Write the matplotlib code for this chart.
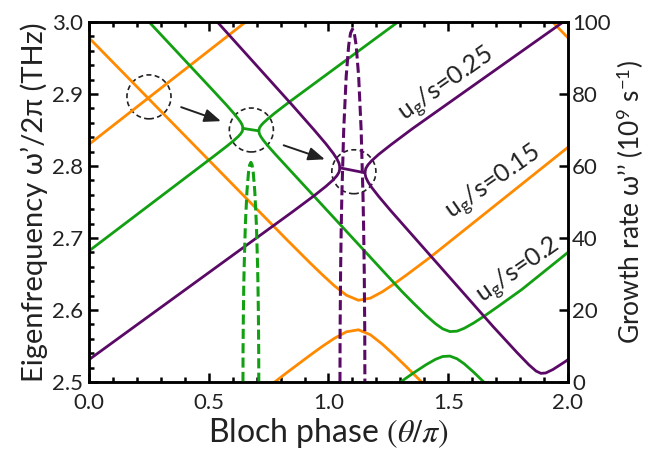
import matplotlib
matplotlib.use("Agg")
import matplotlib.pyplot as plt
from matplotlib.patches import Ellipse
from matplotlib.ticker import MultipleLocator, FormatStrFormatter

plt.rcParams['font.family'] = ['Lato', 'DejaVu Sans']
plt.rcParams['mathtext.fontset'] = 'custom'
plt.rcParams['mathtext.rm'] = 'Lato'
plt.rcParams['mathtext.it'] = 'Lato:italic'
plt.rcParams['mathtext.fallback'] = 'cm'

# ---- bands for u_g/s = 0.15 (orange) ----
or_up_x = [0.0, 0.654]
or_up_y = [2.830, 3.0]
or_top_x = [0.0, 0.825, 0.925, 0.975, 1.025, 1.075, 1.125, 1.175, 1.225, 1.275, 1.325, 1.425, 2.0]
or_top_y = [2.978, 2.698, 2.6648, 2.6488, 2.6335, 2.6205, 2.6135, 2.6164, 2.6253, 2.6365, 2.6484, 2.6733, 2.826]
or_low_x = [0.76, 0.825, 0.925, 0.975, 1.025, 1.075, 1.125, 1.175, 1.225, 1.275, 1.325, 1.425]
or_low_y = [2.496, 2.5127, 2.5376, 2.5496, 2.5607, 2.5697, 2.5725, 2.5656, 2.5525, 2.5373, 2.5212, 2.4881]
or_end_x = [1.936, 2.0]
or_end_y = [3.0, 2.978]

# ---- bands for u_g/s = 0.2 (green) ----
gr_a_x = [0.251, 0.516, 0.576, 0.606, 0.624, 0.634, 0.640, 0.643]
gr_a_y = [3.0, 2.9056, 2.8840, 2.8726, 2.8652, 2.8605, 2.8567, 2.8522]
gr_b_x = [0.0, 0.516, 0.576, 0.606, 0.624, 0.634, 0.640, 0.643]
gr_b_y = [2.682, 2.8122, 2.8276, 2.8358, 2.8412, 2.8449, 2.8481, 2.8522]
gr_flat_x = [0.643, 0.709]
gr_flat_y = [2.8522, 2.8488]
gr_c_x = [0.709, 0.712, 0.718, 0.728, 0.746, 0.776, 0.836, 1.29]
gr_c_y = [2.8488, 2.8529, 2.8561, 2.8598, 2.8652, 2.8735, 2.8888, 3.0]
gr_d_x = [0.709, 0.712, 0.718, 0.728, 0.746, 0.776, 0.836, 1.307, 1.357, 1.407, 1.447,
          1.477, 1.507, 1.537, 1.567, 1.607, 1.657, 1.707, 1.807, 2.0]
gr_d_y = [2.8488, 2.8443, 2.8405, 2.8358, 2.8284, 2.8171, 2.7954, 2.6256, 2.6088, 2.5926, 2.5809,
          2.5738, 2.570, 2.5706, 2.5746, 2.5821, 2.5930, 2.6046, 2.6284, 2.680]
gr_low_x = [1.29, 1.307, 1.357, 1.407, 1.447, 1.477, 1.507, 1.537, 1.567, 1.607, 1.657]
gr_low_y = [2.497, 2.5014, 2.5130, 2.5239, 2.5315, 2.5354, 2.536, 2.5322, 2.5252, 2.5134, 2.4972]

# ---- bands for u_g/s = 0.25 (purple) ----
pu_a_x = [0.536, 0.85, 0.94, 0.99, 1.02, 1.035, 1.044, 1.048]
pu_a_y = [3.0, 2.8841, 2.8501, 2.8305, 2.8176, 2.8100, 2.8039, 2.7974]
pu_b_x = [0.0, 0.85, 0.94, 0.99, 1.02, 1.035, 1.044, 1.048]
pu_b_y = [2.531, 2.7364, 2.7587, 2.7719, 2.7808, 2.7864, 2.7913, 2.7974]
pu_flat_x = [1.048, 1.152]
pu_flat_y = [2.7974, 2.7906]
pu_c_x = [1.152, 1.156, 1.165, 1.18, 1.21, 1.26, 1.35, 1.98]
pu_c_y = [2.7906, 2.7967, 2.8016, 2.8072, 2.8162, 2.8293, 2.8517, 3.0]
pu_d_x = [1.152, 1.156, 1.165, 1.18, 1.21, 1.26, 1.35, 1.687, 1.787, 1.837, 1.867,
          1.887, 1.907, 1.937, 1.987, 2.0]
pu_d_y = [2.7906, 2.7841, 2.7780, 2.7704, 2.7576, 2.7379, 2.7040, 2.5771, 2.541, 2.5238, 2.5151,
          2.512, 2.5125, 2.5173, 2.528, 2.531]

# ---- growth rates (right axis, 1e9 s^-1) ----
gr_rate_x = [0.643, 0.6433, 0.6447, 0.6463, 0.6480, 0.6529, 0.6595, 0.6661, 0.6711, 0.676,
             0.6810, 0.6859, 0.6925, 0.6991, 0.7041, 0.7057, 0.7074, 0.7087, 0.709]
gr_rate_y = [0, 8.6, 19.0, 26.6, 32.1, 43.6, 52.8, 58.2, 60.3, 61.0,
             60.3, 58.2, 52.8, 43.6, 32.1, 26.6, 19.0, 8.6, 0]
pu_rate_x = [1.048, 1.0485, 1.0506, 1.0532, 1.0558, 1.0636, 1.074, 1.0844, 1.0922, 1.10,
             1.1078, 1.1156, 1.126, 1.1364, 1.1442, 1.1468, 1.1494, 1.1515, 1.152]
pu_rate_y = [0, 13.8, 30.6, 42.7, 51.6, 70.0, 84.9, 93.5, 96.9, 98.0,
             96.9, 93.5, 84.9, 70.0, 51.6, 42.7, 30.6, 13.8, 0]

# circled crossings and arrows
circle_x = [0.2505, 0.678, 1.106]
circle_y = [2.896, 2.850, 2.792]
arrow_from = [(0.374, 2.883), (0.802, 2.830)]
arrow_to = [(0.562, 2.861), (0.996, 2.808)]

labels = [r'$\mathrm{u_g}$/s=0.25', r'$\mathrm{u_g}$/s=0.15', r'$\mathrm{u_g}$/s=0.2']
label_x = [1.495, 1.691, 1.795]
label_y = [2.913, 2.776, 2.654]

ORANGE = '#FF8A00'
GREEN = '#12A012'
PURPLE = '#5A0A66'
INK = '#222222'

fig = plt.figure(figsize=(6.48, 4.61), dpi=100)
ax = fig.add_axes([0.1373, 0.1714, 0.7392, 0.7809])
lw = 2.0
for xs, ys in [(or_up_x, or_up_y), (or_top_x, or_top_y), (or_low_x, or_low_y), (or_end_x, or_end_y)]:
    ax.plot(xs, ys, color=ORANGE, lw=lw, solid_capstyle='round')
for xs, ys in [(gr_a_x, gr_a_y), (gr_b_x, gr_b_y), (gr_flat_x, gr_flat_y), (gr_c_x, gr_c_y),
               (gr_d_x, gr_d_y), (gr_low_x, gr_low_y)]:
    ax.plot(xs, ys, color=GREEN, lw=lw, solid_capstyle='round')
for xs, ys in [(pu_a_x, pu_a_y), (pu_b_x, pu_b_y), (pu_flat_x, pu_flat_y), (pu_c_x, pu_c_y),
               (pu_d_x, pu_d_y)]:
    ax.plot(xs, ys, color=PURPLE, lw=lw, solid_capstyle='round')

for cx, cy in zip(circle_x, circle_y):
    ax.add_patch(Ellipse((cx, cy), 0.184, 0.061, fill=False, ec=INK, lw=1.2, ls=(0, (3, 2))))
for p0, p1 in zip(arrow_from, arrow_to):
    ax.annotate('', xy=p1, xytext=p0,
                arrowprops=dict(arrowstyle='-|>,head_length=1.0,head_width=0.4', color=INK, lw=1.4))

for t, x, y in zip(labels, label_x, label_y):
    ax.text(x, y, t, rotation=35, ha='center', va='center', rotation_mode='anchor',
            fontsize=18, color=INK)

ax.set_xlim(0, 2)
ax.set_ylim(2.5, 3.0)
ax.xaxis.set_major_locator(MultipleLocator(0.5))
ax.xaxis.set_minor_locator(MultipleLocator(0.1))
ax.yaxis.set_major_locator(MultipleLocator(0.1))
ax.yaxis.set_minor_locator(MultipleLocator(0.02))
ax.tick_params(which='both', direction='in', top=True, right=False, width=1.8, labelsize=16,
               colors='black', labelcolor=INK)
ax.tick_params(which='major', length=6.5)
ax.tick_params(which='minor', length=3.5)
ax.tick_params(axis='x', pad=8)
ax.tick_params(axis='y', pad=4)
ax.xaxis.set_major_formatter(FormatStrFormatter('%.1f'))
ax.yaxis.set_major_formatter(FormatStrFormatter('%.1f'))
for s in ax.spines.values():
    s.set_linewidth(1.8)
ax.set_xlabel(r'Bloch phase $(\mathit{\theta}/\mathit{\pi})$', fontsize=23, color=INK, labelpad=2,
              math_fontfamily='stix')
ax.set_ylabel('Eigenfrequency ω’/2π (THz)', fontsize=21, color=INK, labelpad=3)

ax2 = ax.twinx()
dash = (0, (3.3, 1.4))
ax2.plot(gr_rate_x, gr_rate_y, color=GREEN, lw=2.2, ls=dash)
ax2.plot(pu_rate_x, pu_rate_y, color=PURPLE, lw=2.2, ls=dash)
ax2.set_ylim(0, 100)
ax2.yaxis.set_major_locator(MultipleLocator(20))
ax2.tick_params(axis='y', direction='in', width=1.8, length=6.5, labelsize=16, pad=3, labelcolor=INK)
for s in ax2.spines.values():
    s.set_linewidth(1.8)
ax2.set_ylabel('Growth rate ω’’ (10$^{9}$ s$^{-1}$)', fontsize=19, color=INK, labelpad=3)

fig.savefig('out.png', dpi=100)
